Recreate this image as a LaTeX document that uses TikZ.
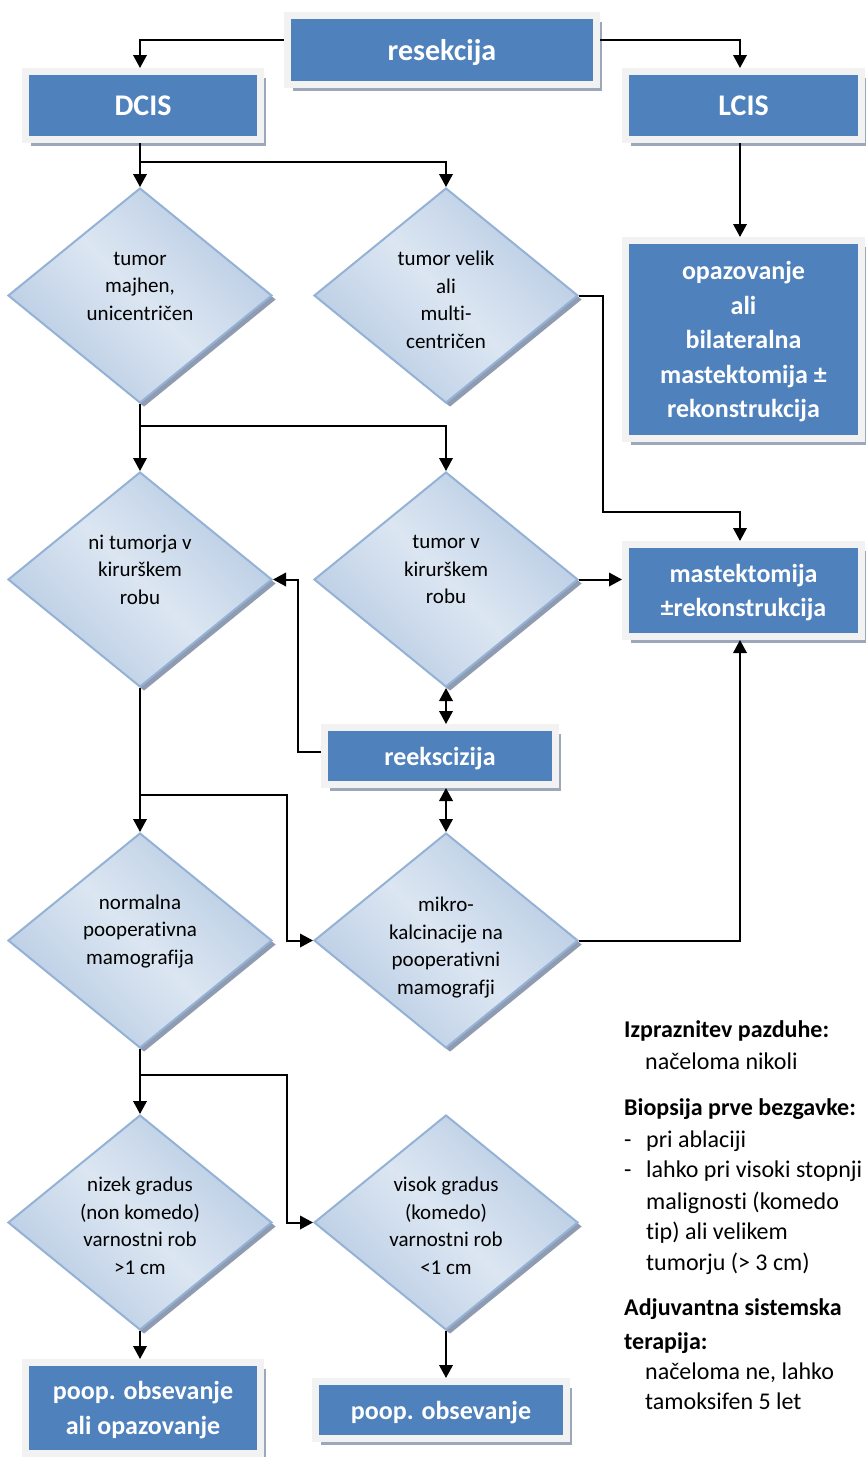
\documentclass[tikz,border=0pt]{standalone}
\usepackage{fontspec}
\setmainfont{Carlito}[Ligatures={NoCommon}]
\usetikzlibrary{shapes.geometric,arrows.meta,shadows}
\definecolor{boxblue}{HTML}{4F81BD}
\definecolor{framegray}{HTML}{F2F2F2}
\definecolor{boxshadow}{HTML}{9CA8BA}
\definecolor{dshadow}{HTML}{8E9BB0}
\definecolor{dborder}{HTML}{94B2D6}
\definecolor{dlight}{HTML}{DCE6F2}
\definecolor{ddark}{HTML}{B7CBE3}
\begin{document}
\begin{tikzpicture}[x=1pt,y=-1pt,
  bluebox/.style={draw=framegray, line width=7pt, fill=boxblue, text=white,
    font=\bfseries\fontsize{26}{34.5}\selectfont, align=center, inner sep=0pt, text depth=0pt,
    general shadow={fill=boxshadow, shadow xshift=5.5pt, shadow yshift=-6.5pt}},
  titlebox/.style={bluebox, font=\bfseries\fontsize{30}{36}\selectfont},
  dec/.style={diamond, draw=dborder, line width=2pt, inner sep=0pt,
    minimum width=264pt, minimum height=215pt, aspect=1.228,
    top color=ddark, bottom color=ddark, middle color=dlight, shading angle=-45,
    general shadow={fill=dshadow, shadow xshift=4pt, shadow yshift=-4pt}},
  dtext/.style={font=\fontsize{21}{27.5}\selectfont, align=center, text=black, inner sep=0pt},
  conn/.style={line width=2pt, black},
  arr/.style={conn, -{Triangle[length=13pt,width=13.5pt]}},
  darr/.style={conn, {Triangle[length=13pt,width=13.5pt]}-{Triangle[length=13pt,width=13.5pt]}},
  note/.style={font=\fontsize{24}{31}\selectfont, anchor=base west, inner sep=0pt},
  noteb/.style={note, font=\bfseries\fontsize{24}{31}\selectfont}
]
\useasboundingbox (0,0) rectangle (866,1457);
\fill[white] (0,0) rectangle (866,1457);

% boxes
\node[titlebox, minimum width=309pt, minimum height=69pt] (res) at (442,50) {resekcija};
\node[titlebox, minimum width=235pt, minimum height=68pt] (dcis) at (143,105.5) {DCIS};
\node[titlebox, minimum width=236pt, minimum height=68pt] (lcis) at (743.5,105.5) {LCIS};
\node[bluebox, minimum width=236pt, minimum height=198pt] (opaz) at (743.5,339.5) {opazovanje\\ali\\bilateralna\\mastektomija ±\\rekonstrukcija};
\node[bluebox, minimum width=236pt, minimum height=92pt] (mast) at (743.5,590.5) {mastektomija\\±rekonstrukcija};
\node[bluebox, minimum width=231pt, minimum height=57pt] (reek) at (440,756) {reekscizija};
\node[bluebox, minimum width=235pt, minimum height=91pt] (pl) at (143,1408) {poop. obsevanje\\ali opazovanje};
\node[bluebox, minimum width=251pt, minimum height=57pt] (pr) at (441,1410) {poop. obsevanje};

% diamonds
\node[dec] (d1) at (140,295.5) {};
\node[dec] (d2) at (446,295.5) {};
\node[dec] (d3) at (140,579.5) {};
\node[dec] (d4) at (446,579.5) {};
\node[dec] (d5) at (140,940.5) {};
\node[dec] (d6) at (446,940.5) {};
\node[dec] (d7) at (140,1222.5) {};
\node[dec] (d8) at (446,1222.5) {};

\node[dtext] (d1t) at (140,286) {tumor\\majhen,\\unicentričen};
\node[dtext] (d2t) at (446,300) {tumor velik\\ali\\multi-\\centričen};
\node[dtext] (d3t) at (140,569.5) {ni tumorja v\\kirurškem\\robu};
\node[dtext] (d4t) at (446,569.5) {tumor v\\kirurškem\\robu};
\node[dtext] (d5t) at (140,931.5) {normalna\\pooperativna\\mamografija};
\node[dtext] (d6t) at (446,947.5) {mikro-\\kalcinacije na\\pooperativni\\mamografji};
\node[dtext] (d7t) at (140,1226) {nizek gradus\\(non komedo)\\varnostni rob\\>1 cm};
\node[dtext] (d8t) at (446,1226) {visok gradus\\(komedo)\\varnostni rob\\<1 cm};

% bend points
\coordinate (b1) at (140,162);
\coordinate (b2) at (140,426);
\coordinate (b3) at (140,795);
\coordinate (b4) at (140,1075);
\coordinate (k1) at (298,650);
\coordinate (k2) at (287,880);
\coordinate (k3) at (287,1150);
\coordinate (k4) at (603,512);

% connectors
\draw[arr] ([yshift=10pt]res.west) -| ([xshift=-3pt]dcis.north);
\draw[arr] ([yshift=10pt]res.east) -| ([xshift=-3.5pt]lcis.north);
\draw[arr] ([xshift=-3pt]dcis.south) -- (d1.north);
\draw[arr] (b1) -| (d2.north);
\draw[arr] ([xshift=-3.5pt]lcis.south) -- ([xshift=-3.5pt]opaz.north);
\draw[arr] (d2.east) -| (k4) -| ([xshift=-3.5pt]mast.north);
\draw[arr] (d1.south) -- (d3.north);
\draw[arr] (b2) -| (d4.north);
\draw[arr] (d4.east) -- (d4.east -| mast.west);
\draw[darr] (d4.south) -- (d4.south |- reek.north);
\draw[arr] ([yshift=4pt]reek.west) -| (k1) |- (d3.east);
\draw[darr] (d6.north |- reek.south) -- (d6.north);
\draw[arr] (d3.south) -- (d5.north);
\draw[arr] (b3) -| (k2) |- (d6.west);
\draw[arr] (d6.east) -| ([xshift=-3.5pt]mast.south);
\draw[arr] (d5.south) -- (d7.north);
\draw[arr] (b4) -| (k3) |- (d8.west);
\draw[arr] (d7.south) -- (d7.south |- pl.north);
\draw[arr] (d8.south) -- (d8.south |- pr.north);

% notes
\node[noteb] (n1) at (624,1037) {Izpraznitev pazduhe:};
\node[note] (n2) at (645,1069) {načeloma nikoli};
\node[noteb] (n3) at (624,1115) {Biopsija prve bezgavke:};
\node[note] (n4a) at (624,1147) {-};
\node[note] (n4) at (646,1147) {pri ablaciji};
\node[note] (n5a) at (624,1177) {-};
\node[note] (n5) at (646,1177) {lahko pri visoki stopnji};
\node[note] (n6) at (646,1209) {malignosti (komedo};
\node[note] (n7) at (646,1239) {tip) ali velikem};
\node[note] (n8) at (646,1270) {tumorju (> 3 cm)};
\node[noteb] (n9) at (624,1315) {Adjuvantna sistemska};
\node[noteb] (n10) at (624,1349) {terapija:};
\node[note] (n11) at (645,1379) {načeloma ne, lahko};
\node[note] (n12) at (645,1409) {tamoksifen 5 let};
\end{tikzpicture}
\end{document}
